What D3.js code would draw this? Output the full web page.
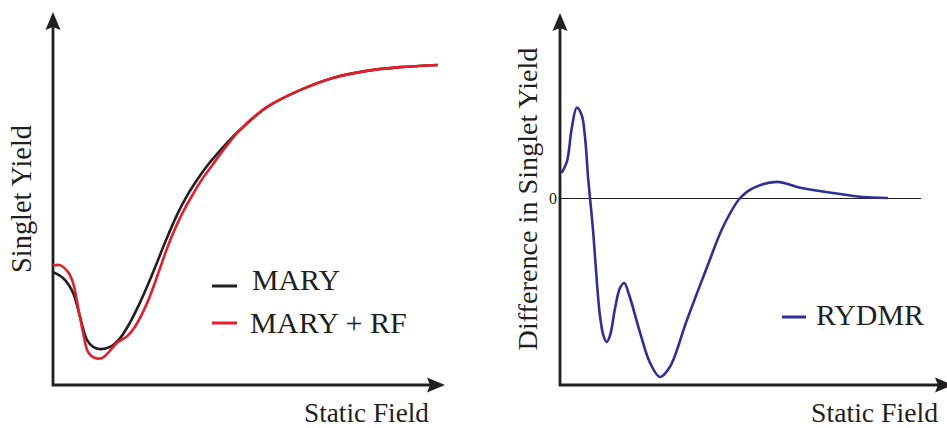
<!DOCTYPE html>
<html>
<head>
<meta charset="utf-8">
<script src="https://cdn.jsdelivr.net/npm/d3@7"></script>
<style>
  html, body { margin: 0; padding: 0; background: #fff; }
</style>
</head>
<body>
<svg id="chart" width="947" height="428"></svg>
<script>
// values, in arbitrary units (x: 0..100, left y: 0..100, right y: -100..100)
const maryX = [0, 2.6, 5.2, 7.0, 8.8, 10.4, 12.2, 14.8, 17.4, 19.9, 22.5, 25.1, 26.9, 29.5, 32.1, 34.7, 37.3, 39.9, 42.7,
  48.4, 55.4, 64.0, 72.5, 81.3, 89.9, 99.7];
const maryY = [30.5, 28.9, 24.9, 18.4, 12.2, 10.3, 9.7, 10.3, 12.7, 16.8, 22.2, 28.4, 33.0, 39.7, 45.9, 51.1, 55.4, 59.2, 62.7,
  68.9, 75.1, 79.7, 83.0, 84.9, 85.9, 86.5];

const rfX = [0, 1.8, 3.9, 5.2, 6.5, 7.8, 9.1, 10.9, 12.7, 14.2, 16.6, 19.2, 21.2, 24.4, 27.2, 29.5, 31.6, 33.7, 36.0, 38.3, 40.7, 43.8,
  48.4, 55.4, 64.0, 72.5, 81.3, 89.9, 99.7];
const rfY = [32.2, 32.4, 30.5, 27.6, 21.1, 14.1, 8.9, 7.3, 7.3, 8.6, 11.4, 13.2, 15.7, 22.2, 30.0, 36.8, 42.2, 46.8, 51.1, 55.1, 58.6, 63.0,
  68.9, 75.1, 79.7, 83.0, 84.9, 85.9, 86.5];

const rydmrX = [0.4, 1.8, 3.1, 4.4, 5.7, 6.6, 7.4, 7.9, 8.8, 9.7, 10.5, 11.4, 12.3, 13.2, 14.5, 15.8, 16.9, 18.2,
  21.1, 23.7, 26.3, 28.9, 33.4, 38.7, 42.9, 47.4, 50.8, 57.1, 62.4, 66.6, 75.5, 79.7, 86.3];
const rydmrY = [13.4, 19.3, 37.4, 48.3, 44.4, 32.1, 10.7, 0, -19.8, -44.9, -62.6, -73.3, -77.0, -73.3, -58.8, -48.1, -45.5, -51.9,
  -72.2, -88.2, -95.7, -90.4, -65.2, -36.9, -15.5, 0, 5.3, 8.6, 5.9, 4.3, 1.6, 0.5, 0];

const leftSeries = [
  { name: "MARY", color: "#231f20", xs: maryX, ys: maryY },
  { name: "MARY + RF", color: "#e3202a", xs: rfX, ys: rfY }
];
const rightSeries = [{ name: "RYDMR", color: "#2e3192", xs: rydmrX, ys: rydmrY }];
const zeroTicks = [0];
const zeroLineEnd = 95;

const svg = d3.select("#chart");
const ink = "#231f20";
const serif = "'Liberation Serif', 'Times New Roman', serif";

// scales
const x1 = d3.scaleLinear().domain([0, 100]).range([53, 439]);
const y1 = d3.scaleLinear().domain([0, 100]).range([385, 15]);
const x2 = d3.scaleLinear().domain([0, 100]).range([560, 940]);
const y2 = d3.scaleLinear().domain([-100, 100]).range([385, 11]);

// axes with arrowheads
function arrowAxes(g, ox, oy, topY, rightX) {
  g.append("path")
    .attr("d", `M${ox},${topY + 14} L${ox},${oy} L${rightX - 14},${oy}`)
    .attr("fill", "none").attr("stroke", ink).attr("stroke-width", 2.8);
  // up arrow
  g.append("path")
    .attr("d", `M${ox},${topY} L${ox + 7.5},${topY + 18} L${ox},${topY + 15} L${ox - 7.5},${topY + 18} Z`)
    .attr("fill", ink);
  // right arrow
  g.append("path")
    .attr("d", `M${rightX},${oy} L${rightX - 18},${oy + 7.5} L${rightX - 15},${oy} L${rightX - 18},${oy - 7.5} Z`)
    .attr("fill", ink);
}

const line = (xs, ys, sx, sy) => d3.line()
  .x(i => sx(xs[i]))
  .y(i => sy(ys[i]))
  .curve(d3.curveCatmullRom.alpha(0.5))(d3.range(xs.length));

// text sized so it spans the width measured on the reference
function label(g, txt, width) {
  const t = g.append("text")
    .attr("font-family", serif)
    .attr("font-size", 28)
    .attr("fill", ink)
    .text(txt);
  const len = t.node().getComputedTextLength();
  t.attr("font-size", 28 * width / len);
  return t;
}

// ---- left panel
const left = svg.append("g");
arrowAxes(left, x1(0), y1(0), 12, 445);

left.selectAll("path.series")
  .data(leftSeries)
  .join("path")
  .attr("class", "series")
  .attr("d", d => line(d.xs, d.ys, x1, y1))
  .attr("fill", "none")
  .attr("stroke", d => d.color)
  .attr("stroke-width", 2.6);

leftSeries.forEach((d, i) => {
  const g = left.append("g").attr("transform", `translate(212,${[286, 323][i]})`);
  g.append("line").attr("x1", 0).attr("x2", 25).attr("stroke", d.color).attr("stroke-width", 3);
  label(g, d.name, [88, 157][i]).attr("x", [40, 38][i]).attr("y", [4, 10][i]);
});

label(left, "Static Field", 125).attr("x", 429).attr("y", 422).attr("text-anchor", "end");
label(left, "Singlet Yield", 148).attr("transform", "translate(31,199) rotate(-90)").attr("text-anchor", "middle");

// ---- right panel
const right = svg.append("g");

const zeroAxis = d3.axisLeft(y2).tickValues(zeroTicks).tickSize(-(x2(zeroLineEnd) - x2(0))).tickPadding(3);
right.append("g").attr("transform", `translate(${x2(0)},0)`).call(zeroAxis)
  .attr("font-family", serif)
  .attr("font-size", 16)
  .call(g => g.select(".domain").remove())
  .call(g => g.selectAll(".tick line").attr("stroke", ink).attr("stroke-width", 1.2))
  .call(g => g.selectAll(".tick text").attr("fill", ink));

arrowAxes(right, x2(0), y2(-100), 13, 953);

right.selectAll("path.series")
  .data(rightSeries)
  .join("path")
  .attr("class", "series")
  .attr("d", d => line(d.xs, d.ys, x2, y2))
  .attr("fill", "none")
  .attr("stroke", d => d.color)
  .attr("stroke-width", 2.6);

rightSeries.forEach(d => {
  const g = right.append("g").attr("transform", "translate(782,317)");
  g.append("line").attr("x1", 0).attr("x2", 24).attr("stroke", d.color).attr("stroke-width", 3);
  label(g, d.name, 108).attr("x", 34).attr("y", 8);
});

label(right, "Static Field", 127).attr("x", 938).attr("y", 422).attr("text-anchor", "end");
label(right, "Difference in Singlet Yield", 303).attr("transform", "translate(537,199) rotate(-90)").attr("text-anchor", "middle");
</script>
</body>
</html>
